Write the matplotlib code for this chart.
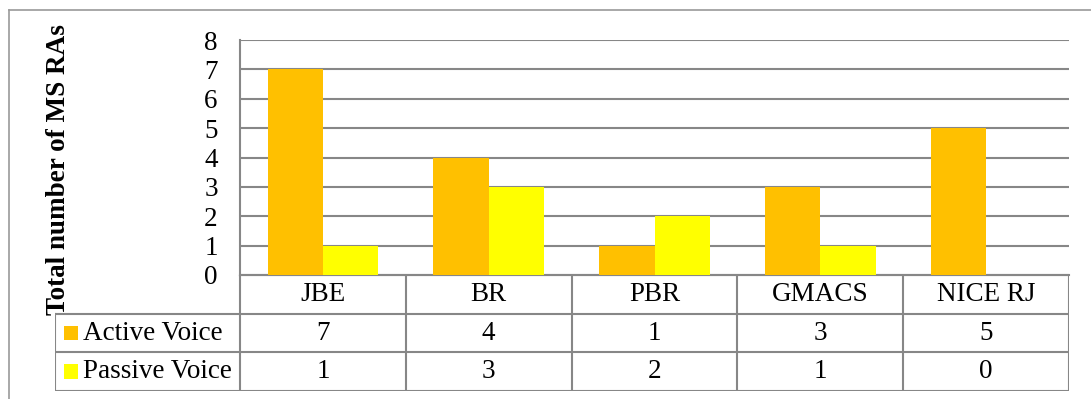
import numpy as np
import matplotlib
matplotlib.use("Agg")
import matplotlib.pyplot as plt
from matplotlib.lines import Line2D
from matplotlib.patches import Rectangle

# Counts of MS RAs by journal and voice
journals = ["JBE", "BR", "PBR", "GMACS", "NICE RJ"]
series_names = ["Active Voice", "Passive Voice"]
active = [7, 4, 1, 3, 5]
passive = [1, 3, 2, 1, 0]
colors = ["#FFC000", "#FFFF00"]
grid_c = "#878787"
fs = 19.5

plt.rcParams["font.family"] = ["Liberation Serif", "DejaVu Serif"]

W, H = 1091, 399
fig = plt.figure(figsize=(W / 100, H / 100), dpi=100)

def box(x0, y0, x1, y1):
    # pixel box (top-left origin) -> figure fraction rect
    return [x0 / W, 1 - y1 / H, (x1 - x0) / W, (y1 - y0) / H]

# chart frame (top and left edges)
fig.add_artist(Line2D([9 / W, 1], [1 - 10 / H, 1 - 10 / H], color="#9a9a9a", lw=1.2))
fig.add_artist(Line2D([9 / W, 9 / W], [0, 1 - 10 / H], color="#9a9a9a", lw=1.2))

# bar area
ax = fig.add_axes(box(240, 40, 1069, 275))
x = np.arange(len(journals))
w = 1 / 3
ax.bar(x - w / 2, active, w, color=colors[0], zorder=3)
ax.bar(x + w / 2, passive, w, color=colors[1], zorder=3)
ax.set_xlim(-0.5, len(journals) - 0.5)
ax.set_ylim(0, 8)
ax.set_yticks(range(0, 9))
ax.yaxis.grid(True, color=grid_c, lw=1.5, zorder=0)
ax.set_xticks([])
ax.tick_params(axis="y", length=0, pad=16, labelsize=fs)
for s in ["top", "right"]:
    ax.spines[s].set_visible(False)
for s in ["left", "bottom"]:
    ax.spines[s].set_color(grid_c)
    ax.spines[s].set_linewidth(1.5)

fig.text(59 / W, 1 - 170 / H, "Total number of MS RAs", rotation=90,
         ha="center", va="center", fontsize=fs, fontweight="bold")

# data table under the bars
tx = fig.add_axes(box(55, 275, 1069, 391))
lab_w = (240 - 55) / ((1069 - 240) / len(journals))
tx.set_xlim(-0.5 - lab_w, len(journals) - 0.5)
tx.set_ylim(3, 0)
tx.axis("off")
kw = dict(color=grid_c, lw=1.5, solid_capstyle="projecting")
# horizontal rules
tx.plot([-0.5, len(journals) - 0.5], [0, 0], **kw)
for r in [1, 2, 3]:
    tx.plot([-0.5 - lab_w, len(journals) - 0.5], [r, r], **kw)
# vertical rules
for c in range(len(journals) + 1):
    tx.plot([c - 0.5, c - 0.5], [0, 3], **kw)
tx.plot([-0.5 - lab_w, -0.5 - lab_w], [1, 3], **kw)

for i, name in enumerate(journals):
    tx.text(i, 0.5, name, ha="center", va="center", fontsize=fs)
    tx.text(i, 1.5, str(active[i]), ha="center", va="center", fontsize=fs)
    tx.text(i, 2.5, str(passive[i]), ha="center", va="center", fontsize=fs)

px = lab_w / 185  # data units per pixel in x
for r, (name, c) in enumerate(zip(series_names, colors)):
    x0 = -0.5 - lab_w + 9 * px
    tx.add_patch(Rectangle((x0, r + 1.5 - 0.19), 14 * px, 0.38, color=c, lw=0))
    tx.text(x0 + 19 * px, r + 1.5, name, ha="left", va="center", fontsize=fs)

fig.savefig("out.png", dpi=100)
